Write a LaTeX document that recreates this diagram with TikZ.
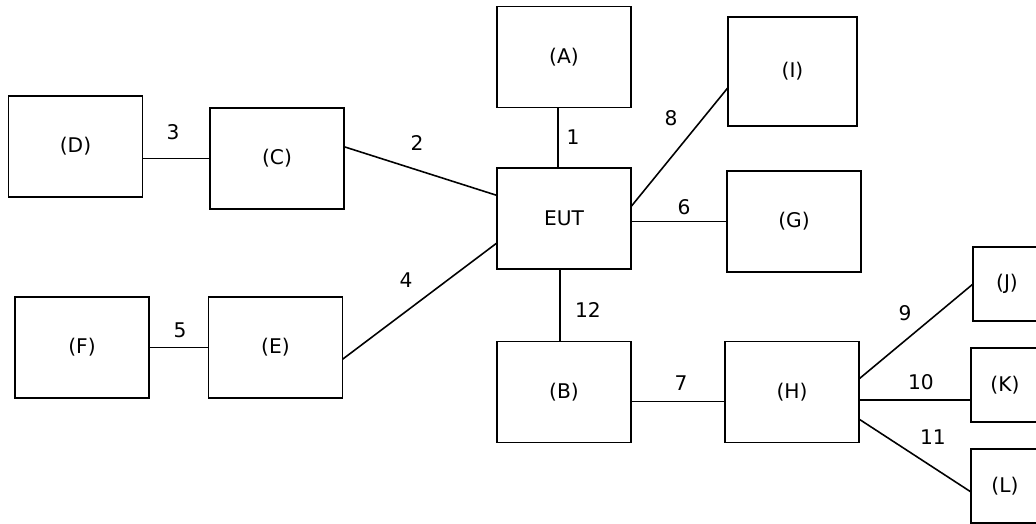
\documentclass[tikz,border=0pt]{standalone}
\usepackage{fontspec}
\setmainfont{DejaVu Sans}
\usepackage{tikz}

\begin{document}
\begin{tikzpicture}[x=0.02cm, y=-0.02cm,
    box/.style={rectangle, draw=black, line width=1pt, text centered, inner sep=0pt, outer sep=0pt, minimum width=2.68cm, minimum height=2.02cm, font=\fontsize{11.5}{13}\selectfont},
    smallbox/.style={box, minimum width=1.36cm, minimum height=1.48cm},
    num/.style={font=\fontsize{11.5}{13}\selectfont, inner sep=0pt},
    link/.style={line width=0.9pt}]
    \useasboundingbox (0, 0) rectangle (1036, 524);
    % boxes
    \node [box] (A) at (564, 57) {(A)};
    \node [box, minimum width=2.58cm, minimum height=2.18cm] (I) at (792.5, 71.5) {(I)};
    \node [box] (D) at (75.5, 146.5) {(D)};
    \node [box] (C) at (277, 158.5) {(C)};
    \node [box] (EUT) at (564, 218.5) {EUT};
    \node [box] (G) at (794, 221.5) {(G)};
    \node [box] (F) at (82, 347.5) {(F)};
    \node [box] (E) at (275.5, 347.5) {(E)};
    \node [box] (B) at (564, 392) {(B)};
    \node [box] (H) at (792, 392) {(H)};
    \node [smallbox] (J) at (1007, 284) {(J)};
    \node [smallbox] (K) at (1005, 385) {(K)};
    \node [smallbox] (L) at (1005, 486) {(L)};
    % connectors
    \draw [link] ([xshift=-0.12cm]A.south) -- ([xshift=-0.12cm]EUT.north);
    \draw [link] (C.10) -- (EUT.161);
    \draw [link] (C.west) -- (C.west -| D.east);
    \draw [link] (E.-10) -- (EUT.200);
    \draw [link] (F) -- (E);
    \draw [link] (G.west) -- (G.west -| EUT.east);
    \draw [link] (B.-8) -- (B.-8 -| H.west);
    \draw [link] (EUT.10) -- (I.194);
    \draw [link] (H.11) -- (J.west);
    \draw [link] (H.-7) -- (H.-7 -| K.west);
    \draw [link] (H.-22) -- (L.190);
    \draw [link] ([xshift=-0.08cm]EUT.south) -- ([xshift=-0.08cm]B.north);
    % cable numbers
    \node [num] (n1) at (573, 137) {1};
    \node [num] (n2) at (417, 143) {2};
    \node [num] (n3) at (173, 132) {3};
    \node [num] (n4) at (406, 280) {4};
    \node [num] (n5) at (180, 330) {5};
    \node [num] (n6) at (684, 207) {6};
    \node [num] (n7) at (681, 383) {7};
    \node [num] (n8) at (671, 118) {8};
    \node [num] (n9) at (905, 313) {9};
    \node [num] (n10) at (921, 382) {10};
    \node [num] (n11) at (933, 437) {11};
    \node [num] (n12) at (588, 310) {12};
\end{tikzpicture}
\end{document}
